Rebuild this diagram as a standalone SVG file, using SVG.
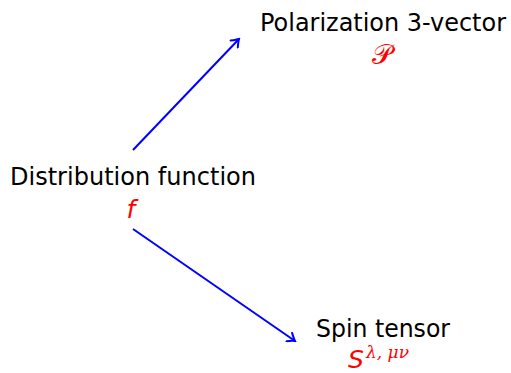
<svg xmlns="http://www.w3.org/2000/svg" width="511" height="373" viewBox="0 0 511 373">
<style>
.lbl{font-family:"DejaVu Sans","Liberation Sans",sans-serif;font-size:25px;fill:#000;text-anchor:middle}
.sym{font-family:"DejaVu Sans","Liberation Sans",sans-serif;font-style:italic;font-size:25px;fill:#ff0000;text-anchor:middle}
.cal{font-family:"DejaVu Serif","Liberation Serif",serif;font-size:28px;fill:#ff0000;text-anchor:middle}
.sup{font-family:"DejaVu Serif","Liberation Serif",serif;font-style:italic;font-size:17px;fill:#ff0000}
.edge{stroke:#0000ff;stroke-width:2;fill:none}
</style>
<defs>
<marker id="arr" viewBox="-8 -6 10 12" markerWidth="10" markerHeight="12" refX="0" refY="0" orient="auto" markerUnits="userSpaceOnUse">
<path d="M-7,-5 Q-2,-1 0,0 Q-2,1 -7,5" stroke="#0000ff" stroke-width="2" fill="none" stroke-linecap="round"/>
</marker>
</defs>
<g id="connectors">
<line class="edge" x1="133" y1="150" x2="239" y2="39" marker-end="url(#arr)"/>
<line class="edge" x1="133" y1="229" x2="295" y2="341" marker-end="url(#arr)"/>
</g>
<g id="node-polarization">
<text class="lbl" x="383" y="31" textLength="246" lengthAdjust="spacingAndGlyphs">Polarization 3-vector</text>
<text class="cal" x="382" y="64">𝒫</text>
</g>
<g id="node-distribution">
<text class="lbl" x="133" y="185" textLength="246" lengthAdjust="spacingAndGlyphs">Distribution function</text>
<text class="sym" x="131" y="218">f</text>
</g>
<g id="node-spin">
<text class="lbl" x="383" y="337" textLength="134" lengthAdjust="spacingAndGlyphs">Spin tensor</text>
<text class="sym" x="348" y="368" style="text-anchor:start">S</text>
<text class="sup" x="366" y="358">λ, μν</text>
</g>
</svg>
